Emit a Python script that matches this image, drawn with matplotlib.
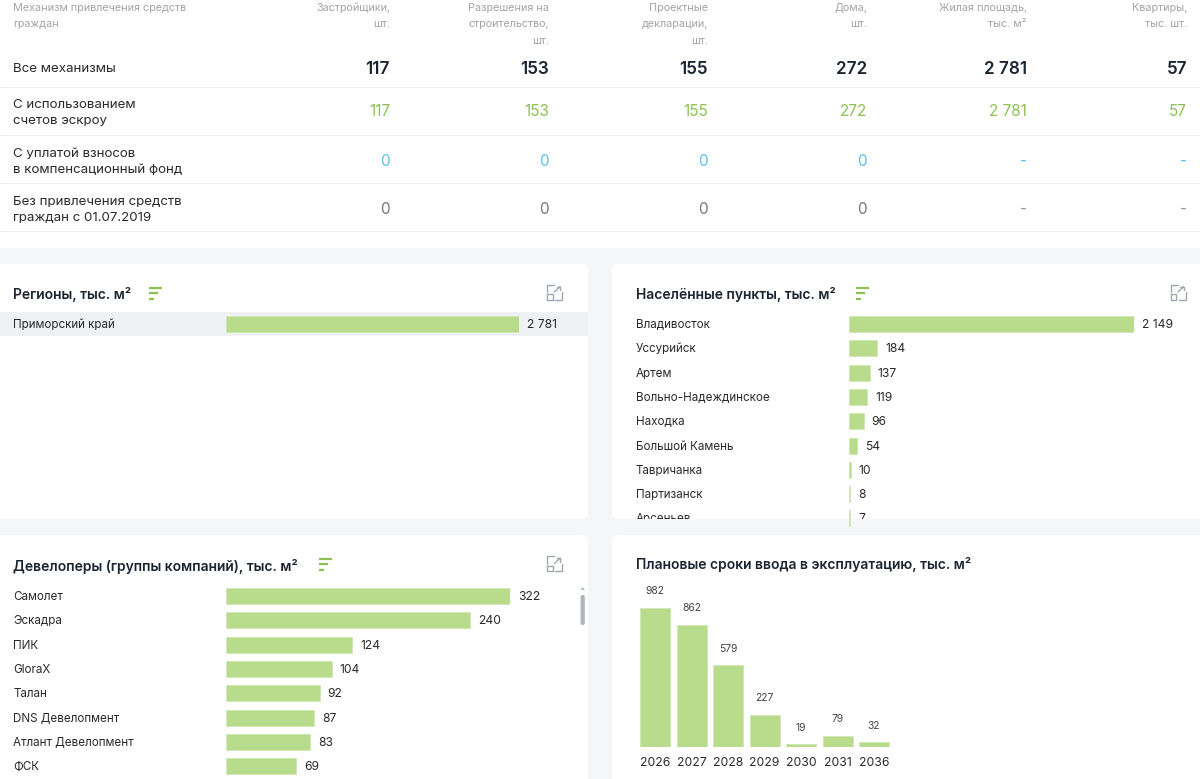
import matplotlib
matplotlib.use('Agg')
import numpy as np
import matplotlib.pyplot as plt
import matplotlib.transforms as mtransforms
from matplotlib.patches import FancyBboxPatch, Rectangle, Polygon
from matplotlib.lines import Line2D

# ---------------- DATA ----------------
table_first_header = ["Механизм привлечения средств", "граждан"]
table_columns = [
    ["Застройщики,", "шт."],
    ["Разрешения на", "строительство,", "шт."],
    ["Проектные", "декларации,", "шт."],
    ["Дома,", "шт."],
    ["Жилая площадь,", "тыс. м²"],
    ["Квартиры,", "тыс. шт."],
]
table_rows = [
    ["Все механизмы"],
    ["С использованием", "счетов эскроу"],
    ["С уплатой взносов", "в компенсационный фонд"],
    ["Без привлечения средств", "граждан с 01.07.2019"],
]
row_all = ["117", "153", "155", "272", "2 781", "57"]
row_escrow = ["117", "153", "155", "272", "2 781", "57"]
row_fund = ["0", "0", "0", "0", "-", "-"]
row_none = ["0", "0", "0", "0", "-", "-"]

region_title = "Регионы, тыс. м²"
region_names = ["Приморский край"]
region_values = [2781]

settlement_title = "Населённые пункты, тыс. м²"
settlement_names = ["Владивосток", "Уссурийск", "Артем", "Вольно-Надеждинское",
                    "Находка", "Большой Камень", "Тавричанка", "Партизанск", "Арсеньев"]
settlement_values = [2149, 184, 137, 119, 96, 54, 10, 8, 7]

developer_title = "Девелоперы (группы компаний), тыс. м²"
developer_names = ["Самолет", "Эскадра", "ПИК", "GloraX", "Талан",
                   "DNS Девелопмент", "Атлант Девелопмент", "ФСК"]
developer_values = [322, 240, 124, 104, 92, 87, 83, 69]

timeline_title = "Плановые сроки ввода в эксплуатацию, тыс. м²"
years = ["2026", "2027", "2028", "2029", "2030", "2031", "2036"]
year_values = [982, 862, 579, 227, 19, 79, 32]

# ---------------- STYLE ----------------
FONT = ["Inter", "DejaVu Sans"]
BAR = "#b8dc8c"
BAR_EDGE = "#cfe8b2"
GREEN = "#8cc152"
BLUE = "#5cc2ea"
GRAYNUM = "#777777"
HEAD = "#a4a4a4"
DARK = "#1b2430"
TXT = "#2a2a2a"
BG = "#f5f6f8"
ICON = "#9ea8ae"
PT = 0.72  # points per pixel at 100 dpi
DY = 1.0   # small vertical text nudge (px)

W, H, DPI = 1200, 779, 100
fig = plt.figure(figsize=(W / DPI, H / DPI), dpi=DPI)
fig.patch.set_facecolor("white")
PX = mtransforms.Affine2D().scale(1 / DPI, -1 / DPI).translate(0, H / DPI) + fig.dpi_scale_trans


def fmt(v):
    return f"{v:,}".replace(",", " ")


def T(x, y, s, **kw):
    kw.setdefault("va", "center")
    kw.setdefault("family", FONT)
    fig.text(x, y + DY, s, transform=PX, **kw)


def rect(x, y, w, h, color, z=-2, r=0):
    if r > 0:
        p = FancyBboxPatch((x, y), w, h, boxstyle=f"round,pad=0,rounding_size={r}",
                           transform=PX, facecolor=color, edgecolor="none", zorder=z)
    else:
        p = Rectangle((x, y), w, h, transform=PX, facecolor=color, edgecolor="none", zorder=z)
    fig.add_artist(p)


def line(xs, ys, color, lw, z=2, cap="butt"):
    fig.add_artist(Line2D(xs, ys, transform=PX, color=color, lw=lw * PT, zorder=z,
                          solid_capstyle=cap, solid_joinstyle="round"))


def filter_icon(x, y):
    line([x, x + 13], [y, y], GREEN, 2.2)
    line([x, x + 9], [y + 5.3, y + 5.3], GREEN, 2.2)
    line([x, x + 4.5], [y + 10.5, y + 10.5], GREEN, 2.2)


def expand_icon(x, y, s=15):
    c, lw = ICON, 1.4
    line([x + 7, x, x, ], [y, y, y + 7.5], c, lw, cap="round")
    line([x + s, x + s, x + 8], [y + 7.5, y + s, y + s], c, lw, cap="round")
    line([x + 7.5, x + 13], [y + 7.5, y + 2], c, lw, cap="round")
    line([x + 9.5, x + 13, x + 13], [y + 2, y + 2, y + 5.5], c, lw, cap="round")
    line([x, x + 5.5, x + 5.5, x, x], [y + 9.5, y + 9.5, y + s, y + s, y + 9.5], c, lw, cap="round")


# ---------------- BACKGROUND / PANELS ----------------
rect(-10, 248, W + 20, H, BG, z=-3)
rect(-10, 264, 598, 255, "white", r=6)
rect(612, 264, 600, 255, "white", r=6)
rect(-10, 535, 598, 260, "white", r=6)
rect(612, 535, 600, 260, "white", r=6)

# ---------------- TABLE ----------------
col_x = [390, 549, 708, 867, 1027, 1187]
for k, s in enumerate(table_first_header):
    T(13, 7 + 16.3 * k, s, fontsize=7.8, color=HEAD, ha="left")
for cx, lines_ in zip(col_x, table_columns):
    for k, s in enumerate(lines_):
        T(cx, 7 + 16.3 * k, s, fontsize=7.8, color=HEAD, ha="right")

row_label_y = [[68], [104, 120], [153, 169], [201, 217]]
row_value_y = [68, 111, 160, 208]
row_values = [row_all, row_escrow, row_fund, row_none]
row_styles = [
    dict(color=DARK, fontsize=12.3, fontweight="semibold"),
    dict(color=GREEN, fontsize=11),
    dict(color=BLUE, fontsize=11),
    dict(color=GRAYNUM, fontsize=11),
]
dash_colors = [DARK, GREEN, BLUE, "#9a9a9a"]
for lbls, ly, vy, vals, st, dc in zip(table_rows, row_label_y, row_value_y, row_values,
                                      row_styles, dash_colors):
    for s, yy in zip(lbls, ly):
        T(13, yy, s, fontsize=9.6, color=TXT, ha="left")
    for cx, v in zip(col_x, vals):
        st2 = dict(st)
        if v == "-":
            st2["color"] = dc
        T(cx, vy, v, ha="right", **st2)
for sy in [87, 135, 183, 231]:
    line([0, W], [sy, sy], "#ececec", 1, z=-1)


# ---------------- HORIZONTAL BAR PANELS ----------------
def hbar_panel(names, values, ax_px, bar_x0, ref_val, ref_px, cap_px, row0, step,
               label_x, bar_h=16):
    x0, y0, x1, y1 = ax_px
    ax = fig.add_axes([x0 / W, 1 - y1 / H, (x1 - x0) / W, (y1 - y0) / H])
    ax.set_facecolor("none")
    ax.axis("off")
    upp = ref_val / (ref_px - bar_x0)
    ax.set_xlim((x0 - bar_x0) * upp, (x1 - bar_x0) * upp)
    ax.set_ylim((y1 - row0) / step, (y0 - row0) / step)
    idx = np.arange(len(values))
    bars = ax.barh(idx, values, height=bar_h / step, color=BAR, edgecolor=BAR_EDGE, lw=0.6)
    cap_val = (cap_px - bar_x0) * upp
    clip = Rectangle((0, -5), cap_val, len(values) + 10, transform=ax.transData)
    for b in bars:
        b.set_clip_path(clip)
    lx = (label_x - x0) / (x1 - x0)
    ytr = ax.get_yaxis_transform()
    for i, (n, v) in enumerate(zip(names, values)):
        ax.annotate(n, (lx, i), xycoords=ytr, xytext=(0, -DY * PT), textcoords="offset points",
                    ha="left", va="center", fontsize=8.4, color=TXT, family=FONT,
                    annotation_clip=False, clip_on=True)
        ax.annotate(fmt(v), (min(v, cap_val), i), xytext=(8 * PT, -DY * PT),
                    textcoords="offset points", ha="left", va="center", fontsize=8.7,
                    color=TXT, family=FONT, annotation_clip=False, clip_on=True)
    return ax


TITLE = dict(fontsize=10, fontweight="semibold", color=DARK, ha="left")

# Regions
T(13, 293, region_title, **TITLE)
filter_icon(149, 288)
expand_icon(547, 284.5)
rect(0, 312, 588, 24, "#eff1f4", z=-1)
hbar_panel(region_names, region_values, (0, 312, 588, 519), 226, 2781, 519, 519,
           324, 24.3, 13)

# Settlements
T(636, 293, settlement_title, **TITLE)
filter_icon(856, 288)
expand_icon(1170.5, 284.5)
hbar_panel(settlement_names, settlement_values, (612, 312, 1200, 519), 849, 184, 877, 1134,
           324, 24.3, 636)

# Developers
T(13, 565, developer_title, **TITLE)
filter_icon(319, 559)
expand_icon(547, 556)
hbar_panel(developer_names, developer_values, (0, 583, 575, 779), 226, 240, 470, 510,
           596, 24.3, 13)
# scrollbar
fig.add_artist(FancyBboxPatch((580.6, 595), 4.2, 30, boxstyle="round,pad=0,rounding_size=2",
                              transform=PX, facecolor="#adb6bb", edgecolor="none", zorder=2))
fig.add_artist(Polygon([[580.6, 590], [584.8, 590], [582.7, 587]], closed=True, transform=PX,
                       facecolor="#adb6bb", edgecolor="none", zorder=2))

# ---------------- TIMELINE ----------------
T(636, 563, timeline_title, **TITLE)
tx0, ty0, tx1, ty1 = 636, 575, 892, 747
axt = fig.add_axes([tx0 / W, 1 - ty1 / H, (tx1 - tx0) / W, (ty1 - ty0) / H])
axt.set_facecolor("none")
axt.axis("off")
step_px = 36.5
c0 = 655
vpp = 982 / (747 - 608)  # units per pixel
axt.set_xlim((tx0 - c0) / step_px, (tx1 - c0) / step_px)
axt.set_ylim(0, (ty1 - ty0) * vpp)
xi = np.arange(len(years))
axt.bar(xi, year_values, width=30 / step_px, color=BAR, edgecolor=BAR_EDGE, lw=0.6)
for i, (y, v) in enumerate(zip(years, year_values)):
    axt.annotate(str(v), (i, v), xytext=(0, 16.5 * PT), textcoords="offset points",
                 ha="center", va="center", fontsize=7.4, color="#444444", family=FONT,
                 annotation_clip=False)
    axt.annotate(y, (i, 0), xytext=(0, -16.5 * PT), textcoords="offset points",
                 ha="center", va="center", fontsize=8.8, color=TXT, family=FONT,
                 annotation_clip=False)

fig.savefig("out.png", dpi=DPI, facecolor=fig.get_facecolor())
